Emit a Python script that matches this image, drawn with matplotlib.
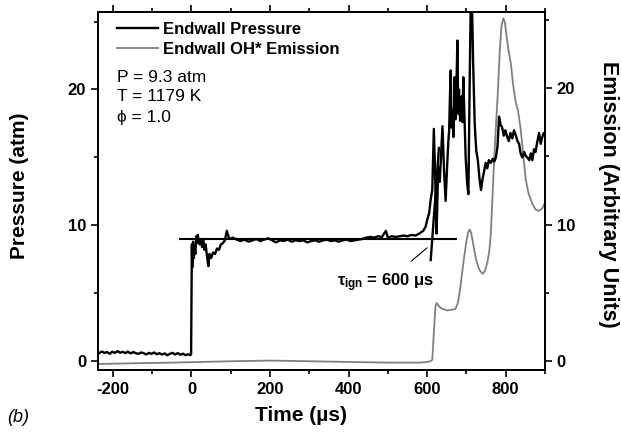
import matplotlib
matplotlib.use("Agg")
import matplotlib.pyplot as plt
from matplotlib.ticker import MultipleLocator

plt.rcParams['font.family'] = ['Liberation Sans', 'DejaVu Sans']
plt.rcParams['mathtext.fontset'] = 'custom'
plt.rcParams['mathtext.rm'] = 'Liberation Sans:bold'
plt.rcParams['mathtext.it'] = 'Liberation Sans:bold'
plt.rcParams['mathtext.bf'] = 'Liberation Sans:bold'

# ---- data: endwall pressure (atm) vs time (us) ----
p_time = [-238, -235, -228, -222, -215, -208, -202, -195, -188, -182, -175, -168, -162, -155,
          -148, -142, -135, -128, -122, -115, -108, -102, -95, -88, -82, -75, -68, -62, -55,
          -48, -42, -35, -28, -22, -15, -8, -3, -1,
          1, 2, 4, 6, 8, 10, 12, 14, 16, 18, 21, 24, 27, 30, 33, 36, 40, 43, 46, 50, 55, 60,
          65, 70, 75, 80, 85, 90, 95, 100,
          105, 115, 125, 135, 145, 155, 165, 175, 185, 195, 205, 215, 225, 235, 245, 255,
          265, 275, 285, 295, 305, 315, 325, 335, 345, 355, 365, 375, 385, 395, 405, 415,
          425, 435, 445, 455, 465, 475, 485, 495, 500, 510, 520, 530, 540, 550, 560, 570, 580,
          590, 596, 600, 605, 609, 613, 617, 621, 624, 628, 632, 636, 639, 643, 647, 651,
          654, 656, 658, 660, 662, 664, 667, 670, 672, 674, 677, 679, 681, 684, 688, 690, 692,
          695, 698, 702, 705, 708, 711, 714, 717, 721, 725, 729, 733, 737, 741, 745, 749, 753,
          757, 762, 767, 771, 775, 779, 783, 787, 791, 795, 799, 804, 808, 812, 817, 821, 826,
          830, 834, 838, 842, 847, 851, 855, 860, 864, 868, 872, 876, 880, 885, 889, 893, 897,
          900]
p_val = [0.65, 0.6, 0.72, 0.62, 0.68, 0.55, 0.7, 0.62, 0.75, 0.63, 0.7, 0.6, 0.72, 0.58,
         0.68, 0.6, 0.55, 0.65, 0.6, 0.5, 0.62, 0.55, 0.65, 0.52, 0.6, 0.5, 0.58, 0.45, 0.55,
         0.62, 0.5, 0.6, 0.48, 0.56, 0.45, 0.52, 0.45, 0.5,
         8.6, 6.9, 8.8, 7.6, 8.2, 7.9, 9.2, 8.7, 9.3, 8.9, 8.6, 9.0, 8.4, 8.9, 8.2, 8.6, 7.6,
         7.0, 7.9, 7.6, 8.0, 7.9, 8.3, 8.2, 8.6, 8.7, 8.9, 9.6, 9.1, 9.0,
         9.1, 8.95, 8.85, 8.95, 8.8, 8.9, 9.0, 8.85, 8.95, 9.05, 8.9, 8.75, 8.9, 8.85, 8.95,
         8.8, 8.9, 8.85, 8.9, 8.75, 8.85, 8.9, 8.8, 8.9, 8.95, 8.85, 8.9, 8.8, 8.9, 8.95,
         8.85, 8.9, 8.95, 9.0, 9.1, 9.15, 9.1, 9.2, 9.15, 9.6, 9.1, 9.2, 9.15, 9.2, 9.25,
         9.2, 9.3, 9.25, 9.4,
         9.6, 9.9, 10.4, 10.9, 11.9, 12.6, 17.1, 13.0, 9.4, 14.3, 13.2, 15.5, 17.3, 14.0,
         11.8, 14.5, 16.2, 17.0, 19.5, 21.4, 17.2, 18.5, 16.5, 20.9, 17.8, 19.5, 23.6, 18.2,
         20.0, 17.7, 19.5, 17.6, 20.9,
         18.0, 15.0, 13.0, 12.3, 20.0, 26.5, 26.5, 22.0, 17.5, 15.5, 14.8, 13.5, 12.6, 13.4,
         14.0, 14.6, 14.2, 14.8, 14.6, 14.9, 14.7, 15.0, 15.8, 18.0, 17.4, 17.2, 16.6, 17.0,
         16.5, 16.2, 16.8, 16.4, 17.0, 16.6, 16.2, 16.0, 15.3, 15.0, 15.4, 15.1, 15.0, 14.8,
         15.3, 14.8, 15.6, 15.4, 16.1, 16.8, 16.0, 16.5, 16.8, 16.6]

# ---- data: endwall OH* emission (arbitrary units) vs time (us) ----
e_time = [-238, -150, -50, 100, 200, 300, 400, 500, 580, 600, 608, 613, 617, 621, 624,
          634, 651, 672, 678, 684, 690, 695, 700, 704, 708, 712, 716, 720, 725, 730, 735,
          741, 747, 753, 758, 762, 766, 770, 775, 780, 785, 789, 794, 798, 802, 808, 813,
          819, 825, 831, 838, 845, 851, 858, 868, 876, 884, 892, 900]
e_val = [-0.2, -0.15, -0.1, 0.0, 0.05, 0.0, -0.05, -0.1, -0.1, -0.05, 0.0, 0.1, 2.06, 4.0,
         4.26, 3.9, 3.72, 3.82, 4.26, 5.3, 6.7, 7.8, 8.8, 9.4, 9.65, 9.4, 8.8, 8.1, 7.4, 6.9,
         6.6, 6.4, 6.6, 7.2, 8.0, 9.3, 11.9, 14.4, 17.2, 19.7, 22.8, 24.5, 25.1, 24.8, 23.8,
         22.6, 21.8, 20.2, 19.0, 18.4, 17.0, 15.0, 13.3, 12.3, 11.5, 11.1, 11.0, 11.15, 11.6]

# reference (post-shock) pressure level and tangent line for ignition
ref_level = 8.97
ref_span = [-30, 673]
tangent_t = [609, 630]
tangent_p = [7.45, 15.7]

fig = plt.figure(figsize=(6.21, 4.33), dpi=100)
ax = fig.add_axes([98/621, 1-370/433, 447/621, 358/433])
ax2 = ax.twinx()

l2, = ax2.plot(e_time, e_val, color='#808080', lw=1.3, label='Endwall OH* Emission')
l1, = ax.plot(p_time, p_val, color='black', lw=1.7, label='Endwall Pressure')
ax.plot(ref_span, [ref_level, ref_level], color='black', lw=1.5)
ax.plot(tangent_t, tangent_p, color='black', lw=1.7)
ax.set_zorder(ax2.get_zorder() + 1)
ax.patch.set_visible(False)

ax.set_xlim(-238, 900)
ax.set_ylim(-0.64, 25.7)
ax2.set_ylim(-0.64, 25.56)

for a in (ax, ax2):
    for s in a.spines.values():
        s.set_linewidth(1.3)
ax.xaxis.set_major_locator(MultipleLocator(200))
ax.xaxis.set_minor_locator(MultipleLocator(100))
ax.yaxis.set_major_locator(MultipleLocator(10))
ax.yaxis.set_minor_locator(MultipleLocator(5))
ax2.yaxis.set_major_locator(MultipleLocator(10))
ax2.yaxis.set_minor_locator(MultipleLocator(5))
ax.tick_params(axis='x', which='both', direction='out', top=True, labeltop=False)
ax.tick_params(which='major', length=5, width=1.2, labelsize=12)
ax.tick_params(axis='x', which='major', pad=4)
ax.tick_params(which='minor', length=3, width=1.2)
ax2.tick_params(which='major', length=5, width=1.2, labelsize=12)
ax2.tick_params(which='minor', length=3, width=1.2)
for lab in ax.get_yticklabels() + ax2.get_yticklabels():
    lab.set_fontweight('bold')
ax.set_xticks([-200, 0, 200, 400, 600, 800])
ax.set_xticklabels(['-200', '0', '200', '400', '600', '800'], fontweight='bold')

ax.set_xlabel('Time (µs)', fontsize=15, fontweight='bold')
ax.xaxis.set_label_coords((301-98)/447, -0.1)
ax.set_ylabel('Pressure (atm)', fontsize=15, fontweight='bold')
ax.yaxis.set_label_coords(-0.154, (370-186)/358)
ax2.set_ylabel('Emission (Arbitrary Units)', fontsize=15.5, fontweight='bold',
               rotation=270, va='center')
ax2.yaxis.set_label_coords((608-98)/447, (370-194)/358)

leg = ax.legend(handles=[l1, l2], loc='upper left', bbox_to_anchor=(0.016, 1.005),
                frameon=False, handlelength=2.5, handletextpad=0.3, borderpad=0.2,
                labelspacing=0.3, prop={'weight': 'bold', 'size': 12})

ax.text(0.042, 0.804, 'P = 9.3 atm', transform=ax.transAxes, fontsize=12.5, va='baseline')
ax.text(0.042, 0.751, 'T = 1179 K', transform=ax.transAxes, fontsize=12.5, va='baseline')
ax.text(0.042, 0.693, 'ϕ = 1.0', transform=ax.transAxes, fontsize=12.5, va='baseline')

ax.annotate(r'$\tau_{\rm ign}$ = 600 μs', xy=(600, 8.35), xytext=(495, 5.8),
            fontsize=12, fontweight='bold', ha='center', va='center',
            arrowprops=dict(arrowstyle='-', color='black', lw=0.8, shrinkA=8, shrinkB=0))

fig.text(7/621, 1-422/433, '(b)', fontsize=13, style='italic', va='baseline')

fig.savefig('out.png', dpi=100)
